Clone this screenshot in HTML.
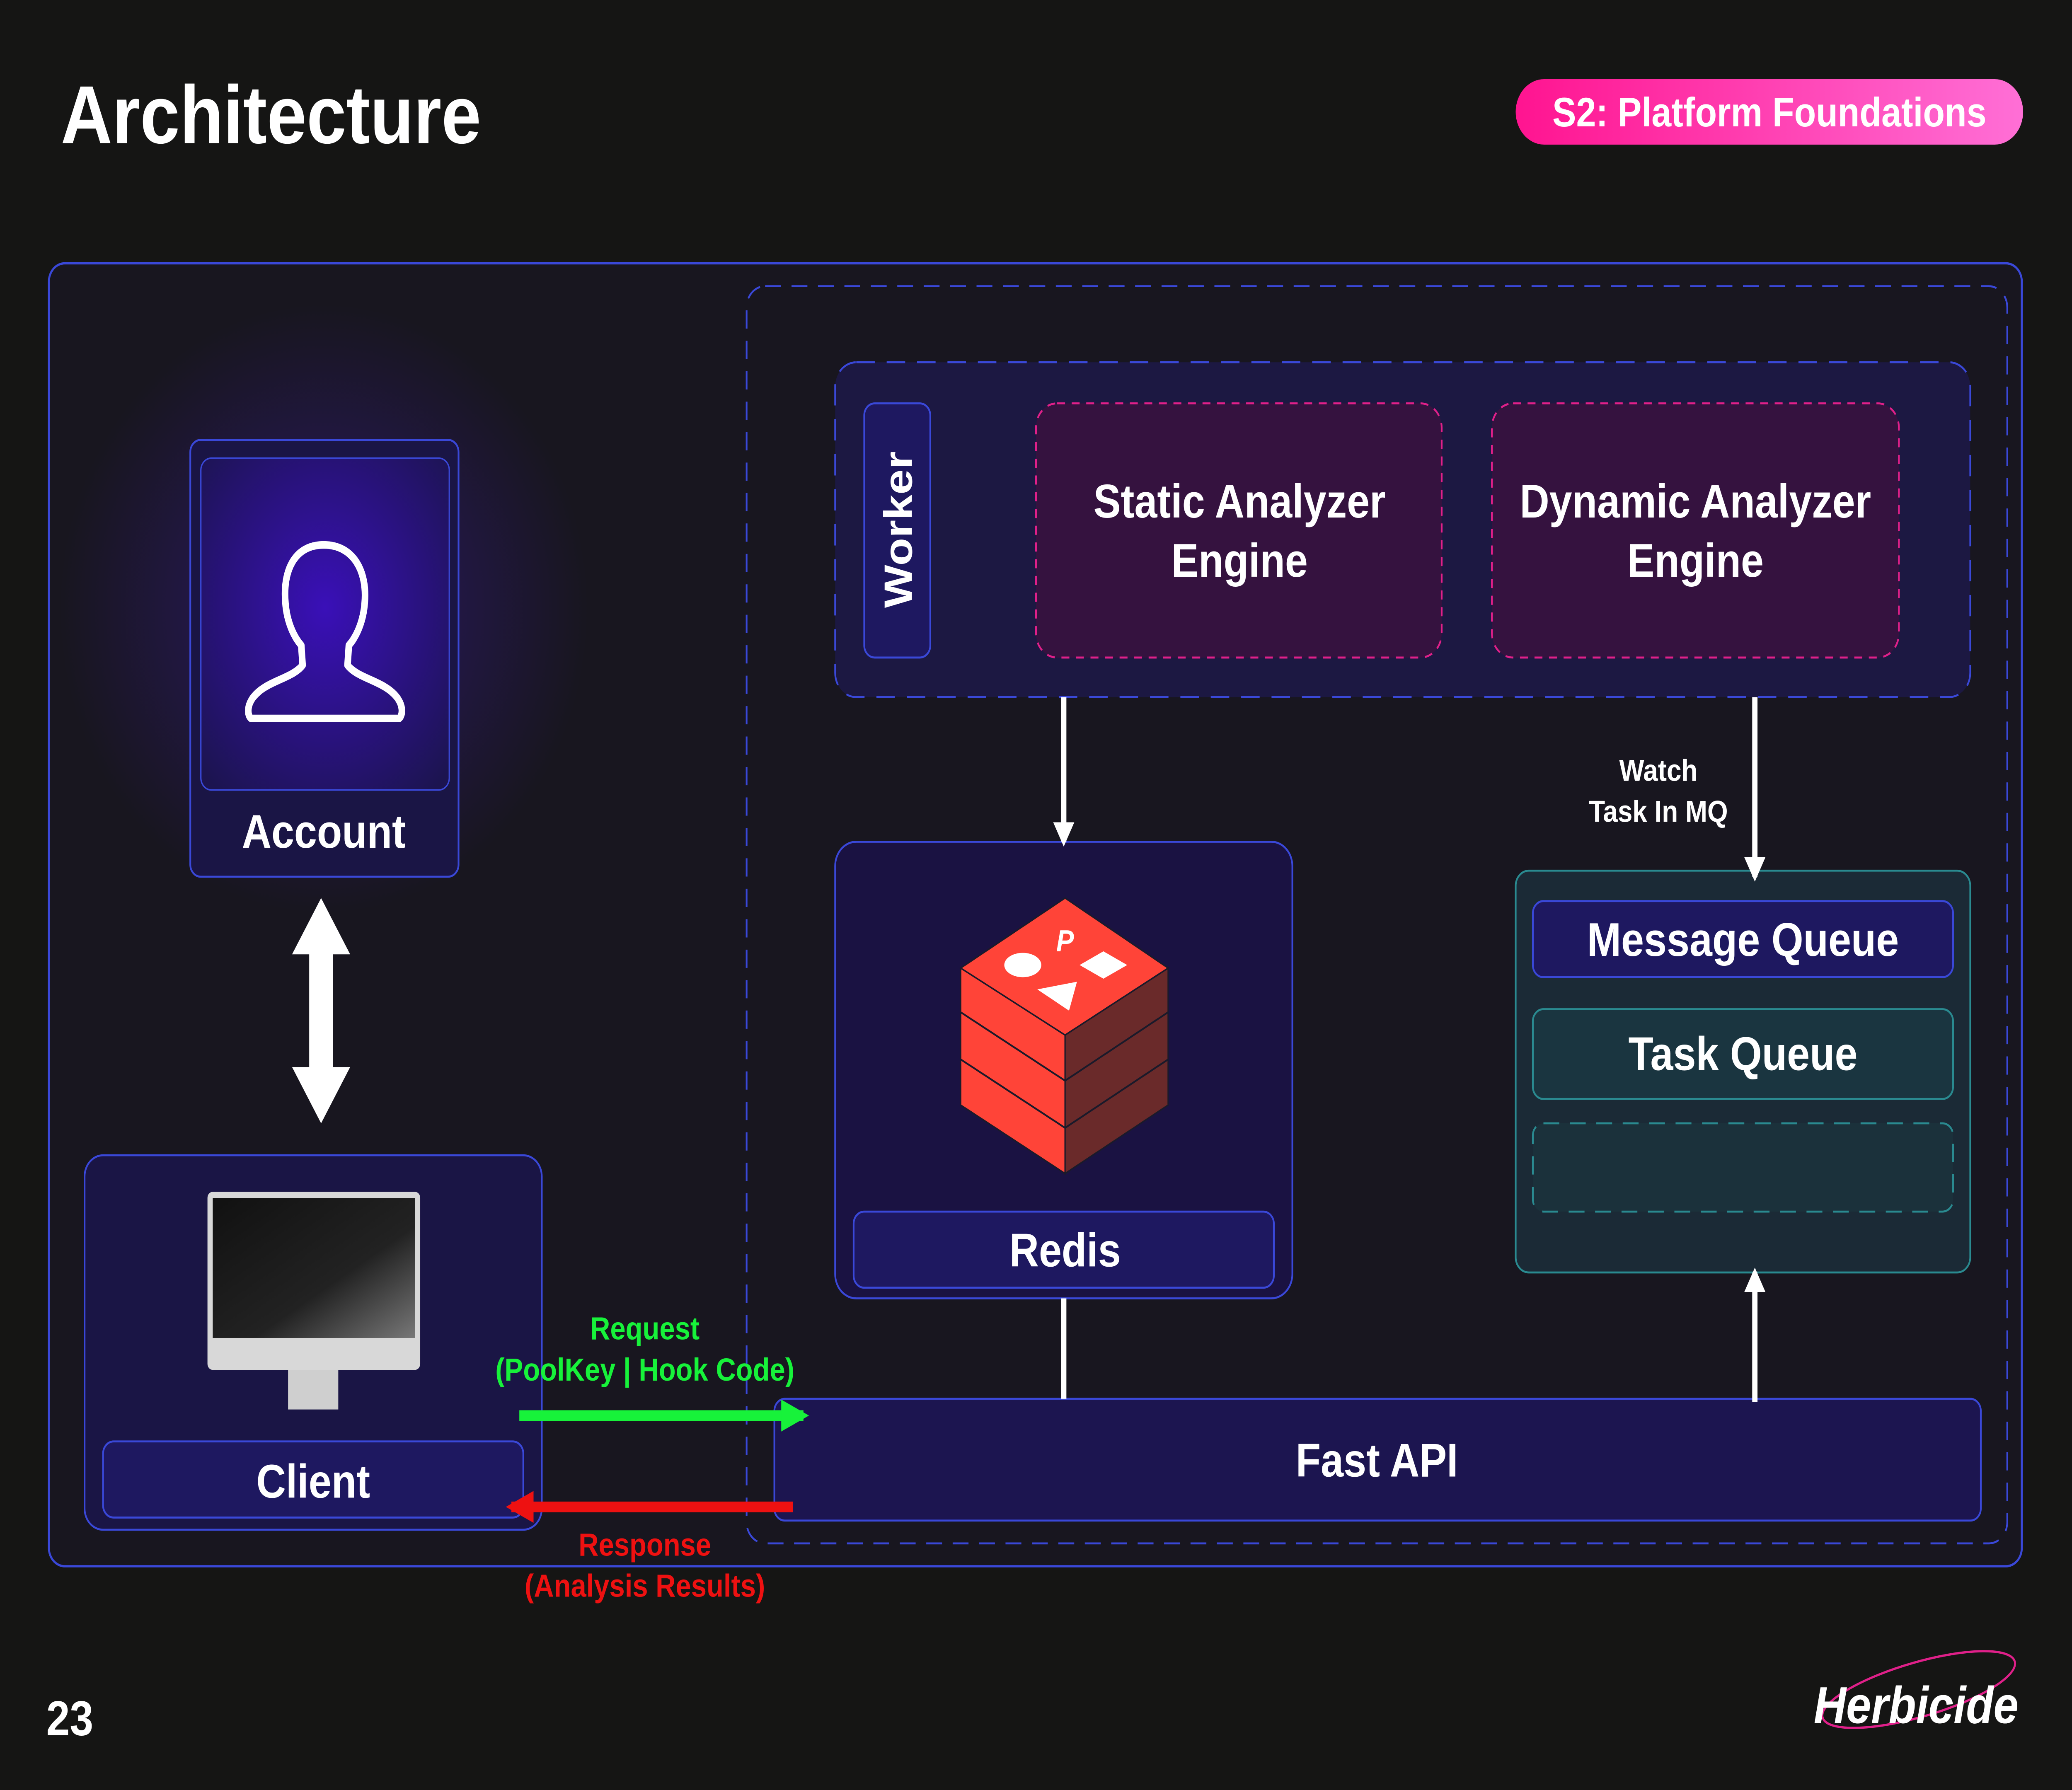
<!DOCTYPE html>
<html><head><meta charset="utf-8"><style>
html,body{margin:0;padding:0;background:#151514;width:100%;height:100%;overflow:hidden;}
svg{display:block;width:100vw;height:100vh;}
text{font-family:"Liberation Sans","DejaVu Sans",sans-serif;font-weight:bold;}
</style></head><body>
<svg viewBox="0 0 1568 1176" preserveAspectRatio="none" xmlns="http://www.w3.org/2000/svg">
<defs>
<linearGradient id="pill" x1="0" x2="1"><stop offset="0" stop-color="#ff1490"/><stop offset="1" stop-color="#ff6fd6"/></linearGradient>
<radialGradient id="glow" cx="0.5" cy="0.45" r="0.7"><stop offset="0" stop-color="#3a10b8"/><stop offset="1" stop-color="#1c1450"/></radialGradient>
<radialGradient id="halo" cx="0.5" cy="0.5" r="0.5"><stop offset="0" stop-color="#3a1aa0" stop-opacity="0.55"/><stop offset="1" stop-color="#3a1aa0" stop-opacity="0"/></radialGradient>
<linearGradient id="screen" x1="0" y1="0" x2="1" y2="1"><stop offset="0" stop-color="#111"/><stop offset="0.6" stop-color="#222"/><stop offset="1" stop-color="#777"/></linearGradient>
<marker id="ah" viewBox="0 0 10 10" refX="8" refY="5" markerWidth="4" markerHeight="4" orient="auto"><path d="M0,0 L10,5 L0,10 z" fill="#fff"/></marker>
<marker id="ahg" viewBox="0 0 10 10" refX="8" refY="5" markerWidth="3" markerHeight="3" orient="auto"><path d="M0,0 L10,5 L0,10 z" fill="#17f23a"/></marker>
<marker id="ahr" viewBox="0 0 10 10" refX="8" refY="5" markerWidth="3" markerHeight="3" orient="auto"><path d="M0,0 L10,5 L0,10 z" fill="#ee1111"/></marker>
</defs>
<rect width="1568" height="1176" fill="#151514"/>
<text x="46" y="94" font-size="54" fill="#fff">Architecture</text>
<rect x="1147" y="52" width="384" height="43" rx="21.5" fill="url(#pill)"/>
<text x="1339" y="83" font-size="27" fill="#fff" text-anchor="middle" font-weight="normal">S2: Platform Foundations</text>

<rect x="37" y="173" width="1493" height="856" rx="12" fill="#18161f" stroke="#3a48d8" stroke-width="1.5"/>
<rect x="565" y="188" width="954" height="826" rx="14" fill="none" stroke="#3a48d8" stroke-width="1.3" stroke-dasharray="12,8"/>

<rect x="632" y="238" width="859" height="220" rx="16" fill="#1c1842" stroke="#3a48d8" stroke-width="1.3" stroke-dasharray="14,9"/>
<rect x="654" y="265" width="50" height="167" rx="8" fill="#1e1860" stroke="#3a48d8" stroke-width="1.3"/>
<text transform="translate(690,348) rotate(-90)" font-size="30" fill="#fff" text-anchor="middle">Worker</text>
<rect x="784" y="265" width="307" height="167" rx="16" fill="#35123f" stroke="#e0208a" stroke-width="1.3" stroke-dasharray="6,5"/>
<text x="938" y="340" font-size="31" fill="#fff" text-anchor="middle">Static Analyzer</text>
<text x="938" y="379" font-size="31" fill="#fff" text-anchor="middle">Engine</text>
<rect x="1129" y="265" width="308" height="167" rx="16" fill="#35123f" stroke="#e0208a" stroke-width="1.3" stroke-dasharray="6,5"/>
<text x="1283" y="340" font-size="31" fill="#fff" text-anchor="middle">Dynamic Analyzer</text>
<text x="1283" y="379" font-size="31" fill="#fff" text-anchor="middle">Engine</text>

<circle cx="245" cy="400" r="200" fill="url(#halo)"/>
<rect x="144" y="289" width="203" height="287" rx="8" fill="#1a1545" stroke="#3a48d8" stroke-width="1.3"/>
<rect x="152" y="301" width="188" height="218" rx="8" fill="url(#glow)" stroke="#3a48d8" stroke-width="1"/>
<path d="M245,358 C222,358 214,376 216,396 C217,408 222,418 228,424 L229,437 C222,445 205,447 195,455 C186,462 187,470 190,472 L302,472 C305,470 306,462 297,455 C287,447 270,445 263,437 L264,424 C270,418 275,408 276,396 C278,376 268,358 245,358 Z" fill="none" stroke="#fff" stroke-width="5" stroke-linejoin="round"/>
<text x="245" y="557" font-size="31" fill="#fff" text-anchor="middle">Account</text>

<path d="M243,590 L265,627 L252,627 L252,701 L265,701 L243,738 L221,701 L234,701 L234,627 L221,627 Z" fill="#fff"/>

<rect x="64" y="759" width="346" height="246" rx="14" fill="#1a1545" stroke="#3a48d8" stroke-width="1.3"/>
<rect x="157" y="783" width="161" height="117" rx="4" fill="#d8d8d8"/>
<rect x="161" y="787" width="153" height="92" fill="url(#screen)"/>
<rect x="218" y="900" width="38" height="26" fill="#cfcfcf"/>
<rect x="78" y="947" width="318" height="50" rx="8" fill="#1e1860" stroke="#3a48d8" stroke-width="1.3"/>
<text x="237" y="984" font-size="31" fill="#fff" text-anchor="middle">Client</text>

<rect x="632" y="553" width="346" height="300" rx="16" fill="#1a1242" stroke="#3a48d8" stroke-width="1.3"/>
<polygon points="727,636 806,680 806,771 727,726" fill="#ff4438" stroke="#1a1a2a" stroke-width="1"/>
<polygon points="806,680 884,636 884,726 806,771" fill="#6a2a2a" stroke="#1a1a2a" stroke-width="1"/>
<polygon points="806,590 884,636 806,680 727,636" fill="#ff4438" stroke="#1a1a2a" stroke-width="1"/>
<path d="M727,665 L806,710 L884,665 M727,696 L806,741 L884,696" fill="none" stroke="#1a1a2a" stroke-width="1.2"/>
<ellipse cx="774" cy="634" rx="14" ry="8" fill="#fff"/>
<polygon points="817,634 835,625 853,634 835,643" fill="#fff"/>
<polygon points="785,650 815,645 809,664" fill="#fff"/>
<text x="806" y="625" font-size="20" fill="#fff" text-anchor="middle" font-style="italic">P</text>
<rect x="646" y="796" width="318" height="50" rx="8" fill="#1e1860" stroke="#3a48d8" stroke-width="1.3"/>
<text x="806" y="832" font-size="31" fill="#fff" text-anchor="middle">Redis</text>

<rect x="1147" y="572" width="344" height="264" rx="10" fill="#1b2a36" stroke="#2a8a90" stroke-width="1.3"/>
<rect x="1160" y="592" width="318" height="50" rx="8" fill="#1e1860" stroke="#3a48d8" stroke-width="1.3"/>
<text x="1319" y="628" font-size="31" fill="#fff" text-anchor="middle">Message Queue</text>
<rect x="1160" y="663" width="318" height="59" rx="8" fill="#1a3540" stroke="#2a8a90" stroke-width="1.3"/>
<text x="1319" y="703" font-size="31" fill="#fff" text-anchor="middle">Task Queue</text>
<rect x="1160" y="738" width="318" height="58" rx="8" fill="#1b313b" stroke="#2a8a90" stroke-width="1.3" stroke-dasharray="12,8"/>

<rect x="586" y="919" width="913" height="80" rx="8" fill="#1c1550" stroke="#3a48d8" stroke-width="1.3"/>
<text x="1042" y="970" font-size="31" fill="#fff" text-anchor="middle">Fast API</text>

<line x1="805" y1="458" x2="805" y2="553" stroke="#fff" stroke-width="4" marker-end="url(#ah)"/>
<line x1="1328" y1="458" x2="1328" y2="576" stroke="#fff" stroke-width="4" marker-end="url(#ah)"/>
<text x="1255" y="513" font-size="20" fill="#fff" text-anchor="middle">Watch</text>
<text x="1255" y="540" font-size="20" fill="#fff" text-anchor="middle">Task In MQ</text>
<line x1="805" y1="853" x2="805" y2="919" stroke="#fff" stroke-width="4"/>
<line x1="1328" y1="921" x2="1328" y2="836" stroke="#fff" stroke-width="4" marker-end="url(#ah)"/>

<line x1="393" y1="930" x2="608" y2="930" stroke="#17f23a" stroke-width="7" marker-end="url(#ahg)"/>
<text x="488" y="880" font-size="21" fill="#17f23a" text-anchor="middle">Request</text>
<text x="488" y="907" font-size="21" fill="#17f23a" text-anchor="middle">(PoolKey | Hook Code)</text>
<line x1="600" y1="990" x2="387" y2="990" stroke="#ee1111" stroke-width="7" marker-end="url(#ahr)"/>
<text x="488" y="1022" font-size="21" fill="#ee1111" text-anchor="middle">Response</text>
<text x="488" y="1049" font-size="21" fill="#ee1111" text-anchor="middle">(Analysis Results)</text>

<text x="35" y="1140" font-size="32" fill="#fff" font-weight="normal">23</text>
<ellipse cx="1452" cy="1110" rx="75" ry="18" transform="rotate(-14 1452 1110)" fill="none" stroke="#e0208a" stroke-width="1.5"/>
<text x="1450" y="1132" font-size="34" fill="#fff" text-anchor="middle" font-family="Liberation Serif" font-style="italic">Herbicide</text>
</svg>
</body></html>
